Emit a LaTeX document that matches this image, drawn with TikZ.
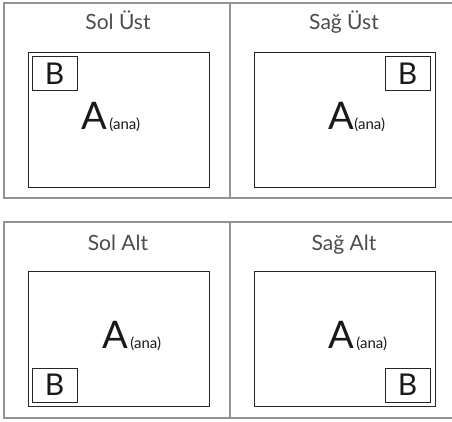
\documentclass[tikz,border=0pt]{standalone}
\usepackage{fontspec}
\setmainfont{Lato}
\usepackage{tikz}
\usetikzlibrary{positioning}
\usepackage{xcolor}

\begin{document}
\begin{tikzpicture}[
  x=1pt, y=-1pt,
  panel/.style={draw=gray!85, line width=1.4pt},
  screen/.style={rectangle, draw=black!85, line width=1pt, inner sep=0pt, outer sep=0pt, minimum width=181pt, minimum height=135pt},
  subwin/.style={rectangle, draw=black!85, line width=1pt, inner sep=0pt, outer sep=0pt, minimum width=45pt, minimum height=34pt, font=\fontsize{30}{30}\selectfont, text=black!90},
  title/.style={anchor=base, font=\fontsize{21}{21}\selectfont, text=black!70},
  mainlbl/.style={anchor=base west, inner sep=0pt, font=\fontsize{38}{38}\selectfont, text=black!90},
  sublbl/.style={anchor=base west, inner sep=0pt, font=\fontsize{15}{15}\selectfont, text=black!90}
]
\useasboundingbox (0,0) rectangle (452,422);

% Panels
\draw[panel] (452,3) -- (4,3) -- (4,198) -- (452,198);
\draw[panel] (230,3) -- (230,198);
\draw[panel] (452,222) -- (4,222) -- (4,418) -- (452,418);
\draw[panel] (230,222) -- (230,418);

% Titles
\node[title] (tltitle) at (118,30) {Sol Üst};
\node[title] (trtitle) at (344,30) {Sağ Üst};
\node[title] (bltitle) at (118,250) {Sol Alt};
\node[title] (brtitle) at (344,250) {Sağ Alt};

% Screens
\node[screen, anchor=north west] (tlscr) at (28,53) {};
\node[screen, anchor=north west] (trscr) at (254,53) {};
\node[screen, anchor=north west] (blscr) at (28,271) {};
\node[screen, anchor=north west] (brscr) at (254,271) {};

% Sub windows
\node[subwin, anchor=north west] (tlsub) at ([shift={(4,4)}]tlscr.north west) {B};
\node[subwin, anchor=north east] (trsub) at ([shift={(-5,4)}]trscr.north east) {B};
\node[subwin, anchor=south west] (blsub) at ([shift={(4,-4)}]blscr.south west) {B};
\node[subwin, anchor=south east] (brsub) at ([shift={(-5,-4)}]brscr.south east) {B};

% Main windows
\node[mainlbl] (tlmain) at (81,130) {A};
\node[sublbl] (tlana) at ([xshift=2pt]tlmain.base east) {(ana)};
\node[mainlbl] (trmain) at (328,130) {A};
\node[sublbl] (trana) at ([xshift=0pt]trmain.base east) {(ana)};
\node[mainlbl] (blmain) at (102,348) {A};
\node[sublbl] (blana) at ([xshift=2pt]blmain.base east) {(ana)};
\node[mainlbl] (brmain) at (328,348) {A};
\node[sublbl] (brana) at ([xshift=2pt]brmain.base east) {(ana)};

\end{tikzpicture}
\end{document}
